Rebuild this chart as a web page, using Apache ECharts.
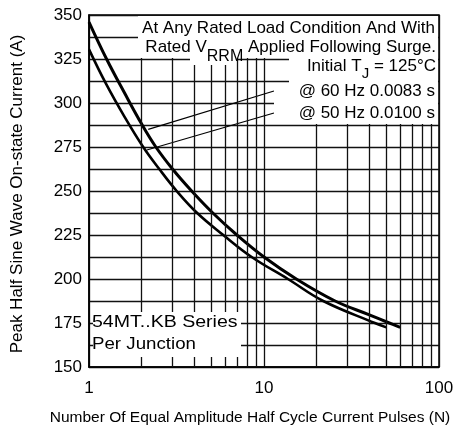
<!DOCTYPE html>
<html>
<head>
<meta charset="utf-8">
<script src="https://cdn.jsdelivr.net/npm/echarts@6/dist/echarts.min.js"></script>
<style>
html,body{margin:0;padding:0;background:#fff;}
#chart{width:459px;height:427px;}
</style>
</head>
<body>
<div id="chart"></div>
<script>
// ---- data ----
const pulsesN60    = [1, 1.26, 1.6, 2, 2.41, 3, 3.86, 5.1, 7, 10, 15.3, 25.5, 40, 52, 60];
const current60Hz  = [346, 325, 305.5, 288, 275, 262.5, 250, 237.5, 225, 212.5, 200, 187.5, 179.6, 175, 172.5];
const pulsesN50    = [1, 1.25, 1.6, 2.04, 2.52, 3.17, 4.15, 5.85, 8.5, 13.7, 21.8, 43, 50];
const current50Hz  = [330.5, 311, 292, 275, 262.5, 250, 237.5, 225, 212.5, 200, 187.5, 175, 172.5];
const xMinorGrid   = [2, 3, 4, 5, 6, 7, 8, 9, 20, 30, 40, 50, 60, 70, 80, 90];
const yTickLabels  = [150, 175, 200, 225, 250, 275, 300, 325, 350];
// leader lines from the label box to the curves: [N, A] pairs
const leader60 = [[2.18, 285], [11.4, 306.8]];
const leader50 = [[2.14, 273.3], [11.4, 294.3]];

const FONT = 'Liberation Sans, Arial, Helvetica, sans-serif';
const GRID = '#111';

const chart = echarts.init(document.getElementById('chart'), null, {renderer: 'canvas'});

function zip(xs, ys) { return xs.map((x, i) => [x, ys[i]]); }

const option = {
  animation: false,
  backgroundColor: '#fff',
  grid: {left: 89, right: 20, top: 15, bottom: 60, show: true, borderColor: '#000', borderWidth: 1.5, outerBoundsMode: 'none'},
  xAxis: {
    type: 'log', logBase: 10, min: 1, max: 100,
    axisLine: {show: true, lineStyle: {color: '#000', width: 1.5}},
    axisTick: {show: false},
    splitLine: {show: true, lineStyle: {color: GRID, width: 1.3}},
    minorTick: {show: false}, minorSplitLine: {show: false},
    axisLabel: {color: '#000', fontSize: 17, fontFamily: FONT, margin: 13}
  },
  yAxis: {
    type: 'value', min: 150, max: 350, interval: 12.5,
    axisLine: {show: true, lineStyle: {color: '#000', width: 1.5}},
    axisTick: {show: false},
    splitLine: {show: true, lineStyle: {color: GRID, width: 1.3}},
    axisLabel: {
      color: '#000', fontSize: 17, fontFamily: FONT, margin: 7,
      formatter: v => (yTickLabels.indexOf(v) >= 0 ? String(v) : '')
    }
  },
  series: [
    {
      name: '60 Hz', type: 'line', data: zip(pulsesN60, current60Hz),
      showSymbol: false, smooth: 0.4, z: 3,
      lineStyle: {color: '#000', width: 3},
      markLine: {
        silent: true, symbol: ['none', 'none'], label: {show: false},
        lineStyle: {color: '#000', width: 1.2, type: 'solid'},
        data: [
          [{coord: leader60[0]}, {coord: leader60[1]}],
          [{coord: leader50[0]}, {coord: leader50[1]}]
        ]
      }
    },
    {
      name: '50 Hz', type: 'line', data: zip(pulsesN50, current50Hz),
      showSymbol: false, smooth: 0.4, z: 3,
      lineStyle: {color: '#000', width: 2.6},
      markLine: {
        silent: true, symbol: ['none', 'none'], label: {show: false},
        lineStyle: {color: GRID, width: 1.3, type: 'solid'},
        data: xMinorGrid.map(v => ({xAxis: v}))
      }
    }
  ],
  graphic: [
    // white boxes behind annotation text
    {type: 'rect', z: 10, shape: {x: 138, y: 16, width: 300, height: 42}, style: {fill: '#fff'}},
    {type: 'rect', z: 10, shape: {x: 190, y: 56, width: 46, height: 9}, style: {fill: '#fff'}},
    {type: 'rect', z: 10, shape: {x: 289, y: 57, width: 149, height: 26}, style: {fill: '#fff'}},
    {type: 'rect', z: 10, shape: {x: 274, y: 83, width: 164, height: 41}, style: {fill: '#fff'}},
    {type: 'rect', z: 10, shape: {x: 93, y: 312, width: 148, height: 45}, style: {fill: '#fff'}},
    // annotation text
    {type: 'text', z: 11, x: 435, y: 28, style: {text: 'At Any Rated Load Condition And With', fill: '#000', font: '17px ' + FONT, textAlign: 'right', textVerticalAlign: 'middle'}},
    {type: 'text', z: 11, x: 436, y: 47, style: {
      text: '{a|Rated V}{b|RRM}{a| Applied Following Surge.}', fill: '#000', font: '17px ' + FONT,
      textAlign: 'right', textVerticalAlign: 'middle',
      rich: {
        a: {fontSize: 17, fontFamily: FONT, lineHeight: 36, verticalAlign: 'middle', fill: '#000'},
        b: {fontSize: 16, fontFamily: FONT, lineHeight: 36, verticalAlign: 'bottom', fill: '#000'}
      }
    }},
    {type: 'text', z: 11, x: 436, y: 66, style: {
      text: '{a|Initial T}{b|J}{a| = 125°C}', fill: '#000', font: '17px ' + FONT,
      textAlign: 'right', textVerticalAlign: 'middle',
      rich: {
        a: {fontSize: 17, fontFamily: FONT, lineHeight: 31, verticalAlign: 'middle', fill: '#000'},
        b: {fontSize: 15, fontFamily: FONT, lineHeight: 31, verticalAlign: 'bottom', fill: '#000'}
      }
    }},
    {type: 'text', z: 11, x: 435, y: 91, style: {text: '@ 60 Hz 0.0083 s', fill: '#000', font: '17px ' + FONT, textAlign: 'right', textVerticalAlign: 'middle'}},
    {type: 'text', z: 11, x: 435, y: 113, style: {text: '@ 50 Hz 0.0100 s', fill: '#000', font: '17px ' + FONT, textAlign: 'right', textVerticalAlign: 'middle'}},
    {type: 'text', z: 11, x: 92, y: 322, scaleX: 1.15, style: {text: '54MT..KB Series', fill: '#000', font: '17px ' + FONT, textAlign: 'left', textVerticalAlign: 'middle'}},
    {type: 'text', z: 11, x: 92, y: 344, scaleX: 1.1, style: {text: 'Per Junction', fill: '#000', font: '17px ' + FONT, textAlign: 'left', textVerticalAlign: 'middle'}},
    // axis names
    {type: 'text', z: 11, x: 17, y: 194, rotation: Math.PI / 2, style: {text: 'Peak Half Sine Wave On-state Current (A)', fill: '#000', font: '17px ' + FONT, textAlign: 'center', textVerticalAlign: 'middle'}},
    {type: 'text', z: 11, x: 250, y: 418, style: {text: 'Number Of Equal Amplitude Half Cycle Current Pulses (N)', fill: '#000', font: '15.5px ' + FONT, textAlign: 'center', textVerticalAlign: 'middle'}}
  ]
};
chart.setOption(option);
</script>
</body>
</html>
